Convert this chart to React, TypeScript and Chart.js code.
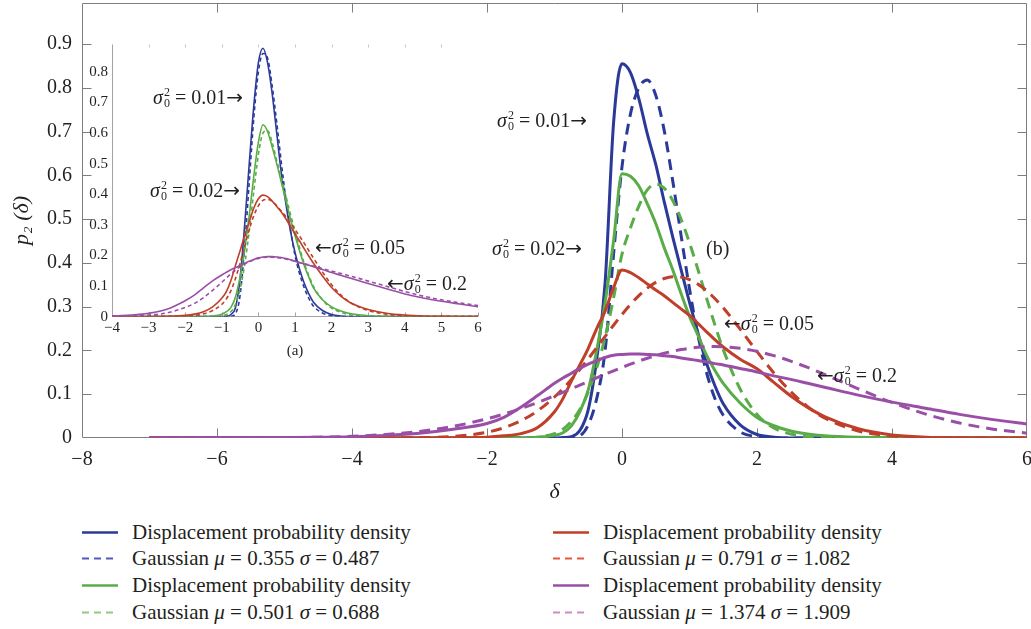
import React, { useEffect, useRef } from "react";
import { Chart, registerables } from "chart.js";

Chart.register(...registerables);

const FONT = '"Liberation Serif", "Times New Roman", serif';
const ARROW_FONT = '"DejaVu Sans", sans-serif';
const INK = "#231f20";
const AXIS = "#7d7d7d";

// ---------- main chart (b) ----------
const X_MAIN = [-7, -6, -5, -4.5, -4, -3.5, -3, -2.5, -2, -1.75, -1.5, -1.25, -1, -0.875, -0.75, -0.625, -0.5, -0.375, -0.25, -0.125, 0, 0.125, 0.25, 0.375, 0.5, 0.625, 0.75, 0.875, 1, 1.125, 1.25, 1.375, 1.5, 1.75, 2, 2.25, 2.5, 2.75, 3, 3.5, 4, 4.5, 5, 5.5, 6];

const BLUE_SOLID = [0, 0, 0, 0, 0, 0, 0, 0, 0, 0, 0, 0, 0, 0.001, 0.003, 0.017, 0.065, 0.18, 0.355, 0.72, 0.855, 0.835, 0.775, 0.695, 0.625, 0.54, 0.46, 0.385, 0.31, 0.24, 0.172, 0.12, 0.078, 0.03, 0.008, 0.002, 0, 0, 0, 0, 0, 0, 0, 0, 0];
const BLUE_GAUSS = [0, 0, 0, 0, 0, 0, 0, 0, 0, 0, 0, 0, 0, 0, 0.001, 0.005, 0.03, 0.09, 0.2, 0.42, 0.62, 0.74, 0.8, 0.818, 0.783, 0.703, 0.589, 0.463, 0.341, 0.235, 0.151, 0.091, 0.052, 0.014, 0.003, 0, 0, 0, 0, 0, 0, 0, 0, 0, 0];
const GREEN_SOLID = [0, 0, 0, 0, 0, 0, 0, 0, 0, 0, 0, 0.002, 0.006, 0.012, 0.028, 0.06, 0.11, 0.2, 0.31, 0.45, 0.604, 0.598, 0.576, 0.535, 0.49, 0.435, 0.385, 0.33, 0.278, 0.235, 0.19, 0.155, 0.125, 0.08, 0.047, 0.028, 0.016, 0.009, 0.005, 0.0015, 0.0005, 0, 0, 0, 0];
const GREEN_GAUSS = [0, 0, 0, 0, 0, 0, 0, 0, 0, 0, 0, 0.002, 0.01, 0.02, 0.038, 0.065, 0.105, 0.16, 0.23, 0.32, 0.42, 0.48, 0.53, 0.567, 0.58, 0.571, 0.543, 0.5, 0.446, 0.385, 0.321, 0.259, 0.202, 0.112, 0.054, 0.023, 0.009, 0.003, 0.001, 0, 0, 0, 0, 0, 0];
const RED_SOLID = [0, 0, 0, 0, 0, 0, 0, 0.0005, 0.002, 0.005, 0.01, 0.024, 0.06, 0.09, 0.13, 0.167, 0.205, 0.25, 0.29, 0.343, 0.384, 0.378, 0.366, 0.352, 0.338, 0.325, 0.31, 0.295, 0.28, 0.262, 0.243, 0.225, 0.208, 0.18, 0.158, 0.127, 0.096, 0.07, 0.049, 0.021, 0.007, 0.002, 0.0005, 0, 0];
const RED_GAUSS = [0, 0, 0, 0, 0, 0.0001, 0.0008, 0.0036, 0.0132, 0.0234, 0.0392, 0.0622, 0.0937, 0.1127, 0.1338, 0.1565, 0.1809, 0.2063, 0.2321, 0.2577, 0.2822, 0.3051, 0.3254, 0.3425, 0.3556, 0.3644, 0.3684, 0.3676, 0.3619, 0.3516, 0.337, 0.3187, 0.2975, 0.2489, 0.1975, 0.1486, 0.1059, 0.0716, 0.0459, 0.016, 0.0045, 0.001, 0.0002, 0, 0];
const PURPLE_SOLID = [0, 0.0005, 0.001, 0.0015, 0.003, 0.006, 0.011, 0.02, 0.033, 0.047, 0.07, 0.097, 0.125, 0.137, 0.148, 0.159, 0.169, 0.177, 0.184, 0.189, 0.191, 0.192, 0.192, 0.191, 0.19, 0.188, 0.186, 0.183, 0.18, 0.177, 0.174, 0.17, 0.167, 0.159, 0.151, 0.142, 0.134, 0.125, 0.116, 0.098, 0.082, 0.068, 0.054, 0.042, 0.032];
const PURPLE_GAUSS = [0, 0.0001, 0.0008, 0.0018, 0.004, 0.008, 0.0151, 0.0267, 0.0438, 0.0548, 0.0673, 0.0813, 0.0965, 0.1044, 0.1125, 0.1208, 0.1291, 0.1374, 0.1456, 0.1536, 0.1613, 0.1687, 0.1757, 0.1822, 0.1882, 0.1935, 0.1981, 0.202, 0.205, 0.2072, 0.2086, 0.209, 0.2085, 0.205, 0.1981, 0.1881, 0.1756, 0.1612, 0.1454, 0.1124, 0.0812, 0.0547, 0.0344, 0.0202, 0.0111];

// ---------- inset chart (a) ----------
const X_INSET = [-4, -3.5, -3, -2.5, -2, -1.75, -1.5, -1.25, -1, -0.875, -0.75, -0.625, -0.5, -0.375, -0.25, -0.125, 0, 0.125, 0.25, 0.375, 0.5, 0.625, 0.75, 0.875, 1, 1.125, 1.25, 1.375, 1.5, 1.75, 2, 2.25, 2.5, 2.75, 3, 3.5, 4, 4.5, 5, 5.5, 6];

const IN_BLUE_SOLID = [0, 0, 0, 0, 0, 0, 0, 0, 0, 0.001, 0.007, 0.03, 0.125, 0.3, 0.5, 0.69, 0.83, 0.877, 0.83, 0.73, 0.6, 0.47, 0.37, 0.28, 0.21, 0.155, 0.11, 0.075, 0.048, 0.02, 0.007, 0.002, 0, 0, 0, 0, 0, 0, 0, 0, 0];
const IN_BLUE_GAUSS = [0, 0, 0, 0, 0, 0, 0, 0, 0, 0, 0.001, 0.01, 0.07, 0.23, 0.44, 0.65, 0.8, 0.86, 0.845, 0.755, 0.635, 0.505, 0.385, 0.285, 0.2, 0.14, 0.095, 0.06, 0.035, 0.012, 0.003, 0, 0, 0, 0, 0, 0, 0, 0, 0, 0];
const IN_GREEN_SOLID = [0, 0, 0, 0, 0, 0, 0, 0.002, 0.008, 0.016, 0.03, 0.065, 0.13, 0.22, 0.33, 0.46, 0.57, 0.627, 0.605, 0.555, 0.5, 0.44, 0.38, 0.32, 0.265, 0.215, 0.168, 0.13, 0.095, 0.055, 0.032, 0.018, 0.01, 0.006, 0.003, 0.001, 0, 0, 0, 0, 0];
const IN_GREEN_GAUSS = [0, 0, 0, 0, 0, 0, 0, 0, 0.003, 0.007, 0.016, 0.04, 0.09, 0.17, 0.28, 0.41, 0.53, 0.6, 0.608, 0.57, 0.51, 0.455, 0.395, 0.335, 0.28, 0.225, 0.175, 0.135, 0.1, 0.055, 0.028, 0.014, 0.006, 0.003, 0.001, 0, 0, 0, 0, 0, 0];
const IN_RED_SOLID = [0, 0, 0, 0.001, 0.004, 0.008, 0.016, 0.032, 0.06, 0.082, 0.118, 0.168, 0.215, 0.265, 0.31, 0.355, 0.385, 0.397, 0.392, 0.378, 0.36, 0.342, 0.32, 0.295, 0.27, 0.247, 0.222, 0.198, 0.175, 0.133, 0.095, 0.067, 0.046, 0.033, 0.023, 0.011, 0.005, 0.002, 0.001, 0, 0];
const IN_RED_GAUSS = [0, 0, 0, 0, 0.002, 0.004, 0.009, 0.02, 0.04, 0.058, 0.085, 0.125, 0.175, 0.23, 0.285, 0.33, 0.362, 0.38, 0.383, 0.377, 0.362, 0.345, 0.327, 0.306, 0.285, 0.263, 0.24, 0.216, 0.192, 0.146, 0.104, 0.071, 0.047, 0.031, 0.02, 0.008, 0.003, 0.001, 0, 0, 0];
const IN_PURPLE_SOLID = [0.002, 0.005, 0.011, 0.024, 0.052, 0.07, 0.094, 0.117, 0.136, 0.145, 0.153, 0.16, 0.167, 0.174, 0.181, 0.187, 0.192, 0.195, 0.196, 0.196, 0.195, 0.193, 0.19, 0.186, 0.181, 0.176, 0.172, 0.168, 0.163, 0.154, 0.144, 0.135, 0.126, 0.117, 0.108, 0.091, 0.074, 0.061, 0.05, 0.041, 0.032];
const IN_PURPLE_GAUSS = [0.001, 0.002, 0.005, 0.012, 0.03, 0.043, 0.062, 0.086, 0.112, 0.126, 0.14, 0.152, 0.163, 0.172, 0.179, 0.185, 0.19, 0.193, 0.194, 0.194, 0.193, 0.191, 0.188, 0.185, 0.181, 0.177, 0.173, 0.169, 0.165, 0.157, 0.149, 0.141, 0.133, 0.125, 0.116, 0.099, 0.082, 0.067, 0.055, 0.045, 0.036];

// ---------- legend / annotations ----------
const DENSITY_LABEL = "Displacement probability density";
const GAUSS_MU = ["0.355", "0.501", "0.791", "1.374"];
const GAUSS_SIGMA = ["0.487", "0.688", "1.082", "1.909"];
const SIGMA0_VALUES = ["0.01", "0.02", "0.05", "0.2"];

const COLORS = ["#2b3a98", "#5aac48", "#bf3f2a", "#9a4fa6"];
const LEGEND_DASH_COLORS = ["#5656c2", "#8fcb80", "#e4573d", "#c98bc5"];

const pts = (xs: number[], ys: number[]) => xs.map((x, i) => ({ x, y: ys[i] }));
const minus = (v: number | string) => String(v).replace("-", "\u2212");
const oneDec = (v: number) => String(Math.round(v * 10) / 10);

const MAIN_H = 510;
const MAIN_BOTTOM = 438;

const mainFrame = {
  id: "mainFrame",
  beforeDatasetsDraw(chart: any) {
    const { ctx, chartArea: a, scales } = chart;
    const x = scales.x, y = scales.y;
    const L = Math.round(a.left) + 0.5, R = Math.round(a.right) - 0.5;
    const T = Math.round(a.top) + 0.5, B = Math.round(a.bottom) - 0.5;
    ctx.save();
    ctx.strokeStyle = AXIS;
    ctx.lineWidth = 1;
    ctx.beginPath();
    ctx.rect(L, T, R - L, B - T);
    x.ticks.forEach((t: any) => {
      const px = Math.round(x.getPixelForValue(t.value)) + 0.5;
      if (px <= L + 1 || px >= R - 1) return;
      ctx.moveTo(px, B); ctx.lineTo(px, B - 9);
      ctx.moveTo(px, T); ctx.lineTo(px, T + 9);
    });
    y.ticks.forEach((t: any) => {
      const py = Math.round(y.getPixelForValue(t.value)) + 0.5;
      if (py >= B - 1 || py <= T + 1) return;
      ctx.moveTo(L, py); ctx.lineTo(L + 9, py);
      ctx.moveTo(R, py); ctx.lineTo(R - 9, py);
    });
    ctx.stroke();
    ctx.restore();
  },
};

const insetFrame = {
  id: "insetFrame",
  beforeDatasetsDraw(chart: any) {
    const { ctx, chartArea: a, scales } = chart;
    const x = scales.x;
    const L = Math.round(a.left) + 0.5, R = Math.round(a.right) - 0.5;
    const T = Math.round(a.top) + 0.5, B = Math.round(a.bottom) - 0.5;
    ctx.save();
    ctx.strokeStyle = "#a3a3a3";
    ctx.lineWidth = 1;
    ctx.beginPath();
    ctx.moveTo(L, T); ctx.lineTo(L, B); ctx.lineTo(R, B);
    x.ticks.forEach((t: any) => {
      const px = Math.round(x.getPixelForValue(t.value)) + 0.5;
      if (px <= L + 1) return;
      ctx.moveTo(px, B); ctx.lineTo(px, B - 4);
    });
    ctx.stroke();
    ctx.strokeStyle = "#c8c8c8";
    ctx.beginPath();
    x.ticks.forEach((t: any) => {
      const px = Math.round(x.getPixelForValue(t.value)) + 0.5;
      if (px <= L + 1 || px >= R - 1) return;
      ctx.moveTo(px, T); ctx.lineTo(px, T + 3);
    });
    ctx.stroke();
    ctx.restore();
  },
};

function lineSet(data: any[], color: string, dashed: boolean, width: number, dash: number[], order: number) {
  return {
    data,
    borderColor: color,
    backgroundColor: color,
    borderWidth: width,
    borderDash: dashed ? dash : [],
    pointRadius: 0,
    fill: false,
    tension: 0.4,
    cubicInterpolationMode: "monotone",
    order,
  };
}

function MainChart() {
  const ref = useRef<HTMLCanvasElement | null>(null);
  useEffect(() => {
    if (!ref.current) return;
    const sol = [BLUE_SOLID, GREEN_SOLID, RED_SOLID, PURPLE_SOLID];
    const gau = [BLUE_GAUSS, GREEN_GAUSS, RED_GAUSS, PURPLE_GAUSS];
    const datasets: any[] = [];
    for (let i = 0; i < 4; i++) {
      datasets.push(lineSet(pts(X_MAIN, sol[i]), COLORS[i], false, 3, [], 8 - 2 * i));
      datasets.push(lineSet(pts(X_MAIN, gau[i]), COLORS[i], true, 3, [11, 7], 7 - 2 * i));
    }
    const chart = new Chart(ref.current, {
      type: "line",
      data: { datasets },
      plugins: [mainFrame],
      options: {
        animation: false,
        responsive: false,
        maintainAspectRatio: false,
        events: [],
        layout: { padding: { left: 0, right: 4, top: 3, bottom: 0 } },
        plugins: { legend: { display: false }, tooltip: { enabled: false } },
        scales: {
          x: {
            type: "linear",
            min: -8,
            max: 6,
            grid: { display: false, drawTicks: false },
            border: { display: false },
            ticks: {
              stepSize: 2,
              includeBounds: false,
              maxRotation: 0,
              padding: 10,
              color: INK,
              font: { family: FONT, size: 20 },
              callback: (v: any) => minus(v),
            },
            title: {
              display: true,
              text: "δ",
              color: INK,
              font: { family: FONT, size: 22, style: "italic" },
              padding: { top: 0, bottom: 5 },
            },
            afterFit: (s: any) => {
              s.height = MAIN_H - MAIN_BOTTOM;
              s.paddingLeft = 0;
              s.paddingRight = 0;
            },
          },
          y: {
            type: "linear",
            min: 0,
            max: 0.994,
            grid: { display: false, drawTicks: false },
            border: { display: false },
            ticks: {
              stepSize: 0.1,
              includeBounds: false,
              padding: 10,
              color: INK,
              font: { family: FONT, size: 20 },
              callback: (v: any) => oneDec(v),
            },
            title: {
              display: true,
              text: "p\u2082 (δ)",
              color: INK,
              font: { family: FONT, size: 22, style: "italic" },
              padding: { top: 9, bottom: 0 },
            },
            afterFit: (s: any) => {
              s.width = 82;
              s.paddingTop = 0;
              s.paddingBottom = 0;
            },
          },
        },
      } as any,
    });
    return () => chart.destroy();
  }, []);
  return (
    <canvas
      ref={ref}
      width={1031}
      height={MAIN_H}
      style={{ position: "absolute", left: 0, top: 0, width: 1031, height: MAIN_H }}
    />
  );
}

const IN_LEFT = 60, IN_TOP = 30, IN_W = 430, IN_H = 310;

function InsetChart() {
  const ref = useRef<HTMLCanvasElement | null>(null);
  useEffect(() => {
    if (!ref.current) return;
    const sol = [IN_BLUE_SOLID, IN_GREEN_SOLID, IN_RED_SOLID, IN_PURPLE_SOLID];
    const gau = [IN_BLUE_GAUSS, IN_GREEN_GAUSS, IN_RED_GAUSS, IN_PURPLE_GAUSS];
    const datasets: any[] = [];
    for (let i = 0; i < 4; i++) {
      datasets.push(lineSet(pts(X_INSET, sol[i]), COLORS[i], false, 1.6, [], 8 - 2 * i));
      datasets.push(lineSet(pts(X_INSET, gau[i]), COLORS[i], true, 1.6, [4, 3], 7 - 2 * i));
    }
    const chart = new Chart(ref.current, {
      type: "line",
      data: { datasets },
      plugins: [insetFrame],
      options: {
        animation: false,
        responsive: false,
        maintainAspectRatio: false,
        events: [],
        layout: { padding: { left: 0, right: 12, top: 14, bottom: 0 } },
        plugins: { legend: { display: false }, tooltip: { enabled: false } },
        scales: {
          x: {
            type: "linear",
            min: -4,
            max: 6,
            grid: { display: false, drawTicks: false },
            border: { display: false },
            ticks: {
              stepSize: 1,
              includeBounds: false,
              maxRotation: 0,
              padding: 2,
              color: INK,
              font: { family: FONT, size: 15 },
              callback: (v: any) => minus(v),
            },
            afterFit: (s: any) => {
              s.height = IN_H - (316.6 - IN_TOP);
              s.paddingLeft = 0;
              s.paddingRight = 0;
            },
          },
          y: {
            type: "linear",
            min: 0,
            max: 0.891,
            grid: { display: false, drawTicks: false },
            border: { display: false },
            ticks: {
              stepSize: 0.1,
              includeBounds: false,
              padding: 4,
              color: INK,
              font: { family: FONT, size: 15 },
              callback: (v: any) => oneDec(v),
            },
            afterFit: (s: any) => {
              s.width = 112 - IN_LEFT;
              s.paddingTop = 0;
              s.paddingBottom = 0;
            },
          },
        },
      } as any,
    });
    return () => chart.destroy();
  }, []);
  return (
    <canvas
      ref={ref}
      width={IN_W}
      height={IN_H}
      style={{ position: "absolute", left: IN_LEFT, top: IN_TOP, width: IN_W, height: IN_H }}
    />
  );
}

function SigmaLabel({ value, arrow, left, top, size }: { value: string; arrow: "left" | "right"; left: number; top: number; size: number }) {
  const arrowStyle = { fontFamily: ARROW_FONT, fontSize: size, lineHeight: 1 };
  return (
    <div
      style={{
        position: "absolute",
        left,
        top,
        transform: "translateY(-50%)",
        fontFamily: FONT,
        fontSize: size,
        color: INK,
        whiteSpace: "nowrap",
        lineHeight: 1,
        display: "flex",
        alignItems: "center",
      }}
    >
      {arrow === "left" && <span style={arrowStyle}>{"\u2190"}</span>}
      <span style={{ fontStyle: "italic" }}>σ</span>
      <span
        style={{
          display: "inline-flex",
          flexDirection: "column",
          fontSize: Math.round(size * 0.62),
          lineHeight: 0.95,
          marginLeft: 1,
          transform: "translateY(1px)",
        }}
      >
        <span>2</span>
        <span>0</span>
      </span>
      <span>{"\u00a0= " + value}</span>
      {arrow === "right" && <span style={arrowStyle}>{"\u2192"}</span>}
    </div>
  );
}

function LegendRow({ left, top, color, dashed, children }: any) {
  return (
    <div
      style={{
        position: "absolute",
        left,
        top,
        transform: "translateY(-50%)",
        display: "flex",
        alignItems: "center",
        fontFamily: FONT,
        fontSize: 21,
        color: INK,
        whiteSpace: "nowrap",
        lineHeight: 1,
      }}
    >
      <svg width={36} height={6} style={{ marginRight: 14, display: "block" }}>
        <line
          x1={0}
          y1={3}
          x2={36}
          y2={3}
          stroke={color}
          strokeWidth={dashed ? 2 : 2.5}
          strokeDasharray={dashed ? "7 5" : undefined}
        />
      </svg>
      <span>{children}</span>
    </div>
  );
}

export default function App() {
  const rowsY = [532, 558, 585, 612];
  const cols = [82, 553];
  const legend: any[] = [];
  for (let i = 0; i < 4; i++) {
    const col = cols[i < 2 ? 0 : 1];
    const r0 = (i % 2) * 2;
    legend.push(
      <LegendRow key={"s" + i} left={col} top={rowsY[r0]} color={COLORS[i]} dashed={false}>
        {DENSITY_LABEL}
      </LegendRow>
    );
    legend.push(
      <LegendRow key={"g" + i} left={col} top={rowsY[r0 + 1]} color={LEGEND_DASH_COLORS[i]} dashed={true}>
        Gaussian <i>μ</i> = {GAUSS_MU[i]} <i>σ</i> = {GAUSS_SIGMA[i]}
      </LegendRow>
    );
  }
  return (
    <div style={{ position: "absolute", left: 0, top: 0, width: 1031, height: 629, background: "#fff", overflow: "hidden" }}>
      <MainChart />
      <InsetChart />
      <SigmaLabel value={SIGMA0_VALUES[0]} arrow="right" left={497} top={120} size={20} />
      <SigmaLabel value={SIGMA0_VALUES[1]} arrow="right" left={492} top={248} size={20} />
      <SigmaLabel value={SIGMA0_VALUES[2]} arrow="left" left={724} top={323} size={20} />
      <SigmaLabel value={SIGMA0_VALUES[3]} arrow="left" left={817} top={375} size={20} />
      <div style={{ position: "absolute", left: 706, top: 248, transform: "translateY(-50%)", fontFamily: FONT, fontSize: 20, color: INK, lineHeight: 1 }}>(b)</div>
      <SigmaLabel value={SIGMA0_VALUES[0]} arrow="right" left={153} top={97} size={20} />
      <SigmaLabel value={SIGMA0_VALUES[1]} arrow="right" left={150} top={190} size={20} />
      <SigmaLabel value={SIGMA0_VALUES[2]} arrow="left" left={315} top={247} size={20} />
      <SigmaLabel value={SIGMA0_VALUES[3]} arrow="left" left={387} top={283} size={20} />
      <div style={{ position: "absolute", left: 295, top: 350, transform: "translate(-50%, -50%)", fontFamily: FONT, fontSize: 15, color: INK, lineHeight: 1 }}>(a)</div>
      {legend}
    </div>
  );
}
